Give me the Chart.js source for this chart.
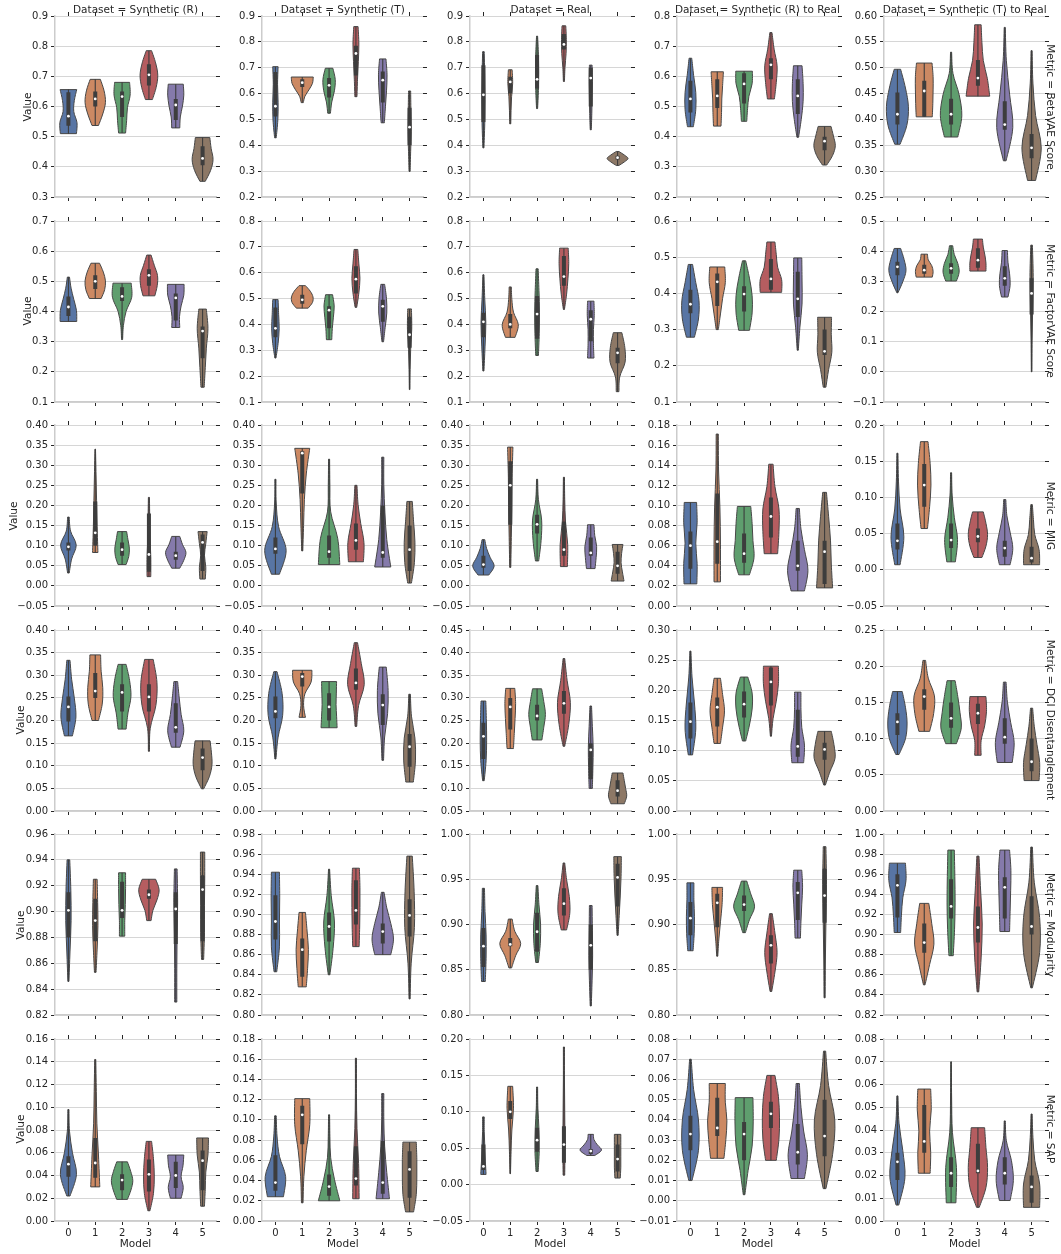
<!DOCTYPE html>
<html>
<head>
<meta charset="utf-8">
<script src="https://cdn.jsdelivr.net/npm/chart.js@4.4.1/dist/chart.umd.min.js"></script>
<style>
body{margin:0;background:#fff;}
#fig{position:relative;width:1061px;height:1254px;font-family:"DejaVu Sans",sans-serif;color:#262626;overflow:hidden;}
#fig canvas{position:absolute;}
.lbl{position:absolute;font-size:10.5px;white-space:nowrap;line-height:1;z-index:5;}
</style>
</head>
<body>
<div id="fig"></div>
<script>
const models=[0,1,2,3,4,5];
const datasetNames=['Synthetic (R)','Synthetic (T)','Real','Synthetic (R) to Real','Synthetic (T) to Real'];
const metricNames=['BetaVAE Score','FactorVAE Score','MIG','DCI Disentanglement','Modularity','SAP'];
const colors=['#5875a4','#cc8963','#5f9e6e','#b55d60','#857aab','#8d7866'];

// y axis [min, max, step] per metric row / dataset column
const yRanges=[
 [[0.3,0.9,0.1],[0.2,0.9,0.1],[0.2,0.9,0.1],[0.2,0.8,0.1],[0.25,0.60,0.05]],
 [[0.1,0.7,0.1],[0.1,0.8,0.1],[0.1,0.8,0.1],[0.1,0.6,0.1],[-0.1,0.5,0.1]],
 [[-0.05,0.40,0.05],[-0.05,0.40,0.05],[-0.05,0.40,0.05],[0,0.18,0.02],[-0.05,0.20,0.05]],
 [[0,0.40,0.05],[0,0.40,0.05],[0.05,0.45,0.05],[0,0.30,0.05],[0,0.25,0.05]],
 [[0.82,0.96,0.02],[0.80,0.98,0.02],[0.80,1.00,0.05],[0.80,1.00,0.05],[0.82,1.00,0.02]],
 [[0,0.16,0.02],[0,0.18,0.02],[-0.05,0.20,0.05],[-0.01,0.08,0.01],[0,0.08,0.01]]
];

// each violin: [min, max, q1, median, q3, [half widths from bottom to top]]
const betaVAE=[
 [[0.51,0.656,0.536,0.568,0.647,[0.30,0.32,0.20,0.22,0.31]],
  [0.537,0.69,0.60,0.625,0.65,[0.12,0.28,0.38,0.33,0.19]],
  [0.512,0.68,0.565,0.633,0.65,[0.13,0.17,0.20,0.30,0.28]],
  [0.623,0.785,0.67,0.705,0.74,[0.13,0.27,0.33,0.25,0.10]],
  [0.529,0.674,0.555,0.605,0.625,[0.15,0.17,0.25,0.30,0.28]],
  [0.352,0.497,0.405,0.428,0.468,[0.10,0.30,0.39,0.32,0.27]]],
 [[0.429,0.704,0.511,0.551,0.683,[0.03,0.09,0.10,0.08,0.10]],
  [0.565,0.664,0.625,0.642,0.655,[0.04,0.10,0.25,0.38,0.41]],
  [0.524,0.698,0.585,0.632,0.66,[0.05,0.10,0.20,0.23,0.14]],
  [0.588,0.859,0.67,0.755,0.785,[0.04,0.06,0.09,0.11,0.08]],
  [0.487,0.734,0.565,0.652,0.685,[0.06,0.10,0.14,0.16,0.12]],
  [0.299,0.61,0.40,0.47,0.545,[0.02,0.04,0.06,0.05,0.04]]],
 [[0.39,0.762,0.49,0.595,0.71,[0.02,0.05,0.06,0.05,0.03]],
  [0.483,0.692,0.60,0.645,0.665,[0.02,0.03,0.05,0.09,0.07]],
  [0.542,0.822,0.62,0.655,0.75,[0.02,0.05,0.06,0.05,0.02]],
  [0.647,0.862,0.77,0.79,0.83,[0.02,0.04,0.08,0.09,0.07]],
  [0.46,0.71,0.55,0.66,0.70,[0.02,0.04,0.05,0.06,0.05]],
  [0.322,0.376,0.345,0.352,0.36,[0.05,0.25,0.39,0.25,0.05]]],
 [[0.433,0.66,0.48,0.525,0.585,[0.11,0.20,0.20,0.12,0.05]],
  [0.435,0.615,0.495,0.535,0.59,[0.14,0.16,0.17,0.20,0.23]],
  [0.451,0.617,0.51,0.575,0.61,[0.10,0.13,0.18,0.30,0.31]],
  [0.525,0.745,0.59,0.638,0.66,[0.13,0.20,0.23,0.12,0.04]],
  [0.398,0.635,0.475,0.535,0.59,[0.03,0.13,0.20,0.20,0.16]],
  [0.306,0.434,0.355,0.385,0.40,[0.08,0.30,0.40,0.33,0.24]]],
 [[0.352,0.497,0.39,0.41,0.452,[0.10,0.35,0.41,0.30,0.12]],
  [0.405,0.509,0.405,0.455,0.475,[0.30,0.32,0.33,0.33,0.29]],
  [0.366,0.53,0.39,0.41,0.44,[0.25,0.40,0.30,0.07,0.02]],
  [0.445,0.583,0.465,0.48,0.515,[0.44,0.35,0.20,0.15,0.12]],
  [0.32,0.578,0.38,0.39,0.435,[0.05,0.30,0.18,0.06,0.02]],
  [0.282,0.533,0.325,0.345,0.372,[0.15,0.36,0.15,0.05,0.02]]]
];
const factorVAE=[
 [[0.367,0.514,0.385,0.415,0.45,[0.31,0.30,0.20,0.10,0.04]],
  [0.443,0.56,0.475,0.50,0.52,[0.22,0.35,0.38,0.30,0.16]],
  [0.307,0.494,0.435,0.45,0.48,[0.02,0.05,0.15,0.36,0.34]],
  [0.452,0.587,0.485,0.52,0.54,[0.22,0.31,0.32,0.20,0.08]],
  [0.347,0.49,0.37,0.445,0.46,[0.15,0.14,0.20,0.30,0.31]],
  [0.149,0.408,0.245,0.335,0.35,[0.06,0.10,0.14,0.20,0.14]]],
 [[0.27,0.496,0.35,0.385,0.465,[0.02,0.10,0.14,0.12,0.10]],
  [0.463,0.55,0.48,0.495,0.515,[0.22,0.38,0.40,0.30,0.12]],
  [0.341,0.515,0.385,0.455,0.47,[0.10,0.12,0.16,0.19,0.13]],
  [0.466,0.69,0.52,0.575,0.625,[0.03,0.11,0.15,0.11,0.07]],
  [0.333,0.555,0.41,0.47,0.495,[0.03,0.09,0.15,0.14,0.07]],
  [0.148,0.46,0.31,0.36,0.43,[0.01,0.02,0.04,0.08,0.07]]],
 [[0.22,0.592,0.35,0.41,0.445,[0.02,0.06,0.09,0.05,0.02]],
  [0.35,0.545,0.385,0.40,0.44,[0.18,0.30,0.12,0.06,0.04]],
  [0.28,0.615,0.345,0.44,0.51,[0.05,0.08,0.09,0.07,0.04]],
  [0.458,0.695,0.55,0.585,0.665,[0.02,0.10,0.15,0.18,0.16]],
  [0.27,0.49,0.335,0.42,0.455,[0.12,0.10,0.10,0.13,0.12]],
  [0.14,0.368,0.25,0.29,0.31,[0.05,0.08,0.28,0.27,0.16]]],
 [[0.279,0.48,0.345,0.37,0.41,[0.15,0.30,0.32,0.20,0.08]],
  [0.30,0.473,0.365,0.432,0.455,[0.04,0.12,0.20,0.30,0.28]],
  [0.298,0.49,0.35,0.398,0.42,[0.20,0.30,0.30,0.20,0.06]],
  [0.403,0.542,0.41,0.44,0.495,[0.40,0.40,0.25,0.20,0.15]],
  [0.243,0.498,0.335,0.385,0.46,[0.02,0.08,0.16,0.16,0.15]],
  [0.141,0.334,0.23,0.24,0.30,[0.05,0.15,0.27,0.25,0.26]]],
 [[0.262,0.409,0.32,0.348,0.365,[0.02,0.20,0.32,0.25,0.12]],
  [0.314,0.39,0.325,0.337,0.355,[0.30,0.33,0.28,0.15,0.12]],
  [0.301,0.418,0.325,0.343,0.36,[0.20,0.30,0.25,0.12,0.06]],
  [0.334,0.44,0.345,0.37,0.41,[0.30,0.30,0.26,0.20,0.17]],
  [0.248,0.402,0.285,0.31,0.35,[0.12,0.20,0.18,0.12,0.10]],
  [0.0,0.42,0.19,0.26,0.31,[0.01,0.02,0.04,0.06,0.03]]]
];
const mig=[
 [[0.032,0.171,0.088,0.097,0.108,[0.03,0.12,0.29,0.08,0.03]],
  [0.083,0.34,0.10,0.132,0.21,[0.10,0.07,0.05,0.03,0.01]],
  [0.053,0.135,0.075,0.09,0.108,[0.15,0.25,0.27,0.22,0.17]],
  [0.023,0.22,0.035,0.078,0.18,[0.07,0.07,0.04,0.03,0.02]],
  [0.044,0.123,0.065,0.075,0.085,[0.15,0.30,0.38,0.25,0.15]],
  [0.017,0.135,0.037,0.108,0.128,[0.10,0.12,0.07,0.12,0.17]]],
 [[0.029,0.265,0.08,0.092,0.12,[0.15,0.40,0.12,0.03,0.02]],
  [0.087,0.342,0.23,0.33,0.335,[0.02,0.05,0.08,0.15,0.28]],
  [0.053,0.315,0.07,0.085,0.125,[0.40,0.32,0.06,0.03,0.02]],
  [0.06,0.25,0.09,0.113,0.155,[0.28,0.30,0.18,0.08,0.04]],
  [0.047,0.32,0.07,0.083,0.20,[0.30,0.15,0.08,0.04,0.04]],
  [0.007,0.21,0.037,0.09,0.15,[0.07,0.18,0.20,0.15,0.10]]],
 [[0.027,0.115,0.045,0.053,0.075,[0.20,0.40,0.25,0.12,0.05]],
  [0.046,0.345,0.152,0.25,0.31,[0.02,0.04,0.06,0.07,0.10]],
  [0.062,0.265,0.13,0.153,0.177,[0.06,0.15,0.17,0.05,0.02]],
  [0.048,0.27,0.075,0.09,0.16,[0.13,0.14,0.06,0.03,0.02]],
  [0.043,0.152,0.075,0.082,0.12,[0.16,0.20,0.22,0.15,0.12]],
  [0.012,0.103,0.03,0.05,0.085,[0.24,0.18,0.13,0.15,0.20]]],
 [[0.022,0.103,0.037,0.06,0.074,[0.24,0.25,0.20,0.25,0.23]],
  [0.024,0.171,0.042,0.064,0.112,[0.12,0.12,0.10,0.05,0.04]],
  [0.031,0.099,0.043,0.052,0.072,[0.20,0.37,0.33,0.30,0.25]],
  [0.052,0.141,0.068,0.089,0.108,[0.25,0.30,0.30,0.15,0.08]],
  [0.015,0.097,0.035,0.04,0.065,[0.25,0.38,0.25,0.12,0.06]],
  [0.018,0.113,0.022,0.054,0.065,[0.30,0.25,0.22,0.15,0.07]]],
 [[0.007,0.161,0.028,0.04,0.064,[0.10,0.24,0.10,0.04,0.02]],
  [0.057,0.177,0.087,0.117,0.146,[0.12,0.20,0.25,0.22,0.14]],
  [0.011,0.134,0.03,0.041,0.064,[0.16,0.24,0.12,0.04,0.02]],
  [0.017,0.08,0.038,0.046,0.057,[0.15,0.30,0.36,0.30,0.20]],
  [0.007,0.097,0.018,0.03,0.04,[0.20,0.30,0.20,0.08,0.04]],
  [0.007,0.09,0.01,0.016,0.032,[0.30,0.28,0.12,0.07,0.03]]]
];
const dci=[
 [[0.166,0.333,0.198,0.23,0.253,[0.15,0.28,0.22,0.12,0.06]],
  [0.20,0.345,0.25,0.265,0.305,[0.12,0.26,0.28,0.22,0.20]],
  [0.181,0.324,0.22,0.262,0.28,[0.15,0.22,0.33,0.28,0.15]],
  [0.132,0.335,0.22,0.252,0.28,[0.02,0.05,0.26,0.30,0.16]],
  [0.141,0.286,0.173,0.185,0.238,[0.16,0.30,0.20,0.13,0.07]],
  [0.049,0.155,0.09,0.118,0.138,[0.04,0.25,0.35,0.33,0.28]]],
 [[0.115,0.308,0.205,0.22,0.253,[0.02,0.10,0.27,0.25,0.06]],
  [0.207,0.311,0.275,0.297,0.305,[0.12,0.05,0.10,0.33,0.36]],
  [0.184,0.286,0.20,0.23,0.26,[0.30,0.28,0.26,0.27,0.28]],
  [0.187,0.372,0.268,0.283,0.315,[0.03,0.10,0.31,0.20,0.06]],
  [0.112,0.318,0.19,0.234,0.258,[0.03,0.07,0.18,0.20,0.13]],
  [0.064,0.258,0.098,0.142,0.17,[0.14,0.22,0.20,0.07,0.03]]],
 [[0.117,0.293,0.165,0.215,0.245,[0.03,0.10,0.12,0.11,0.09]],
  [0.188,0.321,0.23,0.28,0.30,[0.12,0.15,0.18,0.20,0.17]],
  [0.207,0.32,0.25,0.26,0.285,[0.18,0.25,0.31,0.25,0.17]],
  [0.193,0.387,0.265,0.288,0.315,[0.03,0.18,0.24,0.12,0.03]],
  [0.10,0.282,0.12,0.185,0.20,[0.06,0.08,0.09,0.06,0.03]],
  [0.066,0.134,0.082,0.095,0.118,[0.25,0.34,0.30,0.25,0.20]]],
 [[0.093,0.265,0.12,0.148,0.18,[0.08,0.20,0.15,0.06,0.02]],
  [0.112,0.22,0.14,0.172,0.188,[0.12,0.20,0.27,0.20,0.12]],
  [0.116,0.222,0.155,0.177,0.198,[0.06,0.20,0.30,0.30,0.14]],
  [0.124,0.24,0.175,0.214,0.238,[0.02,0.08,0.20,0.28,0.28]],
  [0.08,0.197,0.09,0.107,0.168,[0.22,0.25,0.15,0.12,0.12]],
  [0.043,0.132,0.085,0.102,0.113,[0.03,0.20,0.39,0.35,0.25]]],
 [[0.078,0.165,0.105,0.123,0.135,[0.06,0.30,0.36,0.30,0.18]],
  [0.11,0.208,0.14,0.158,0.168,[0.20,0.35,0.38,0.15,0.05]],
  [0.093,0.18,0.115,0.128,0.15,[0.20,0.38,0.33,0.25,0.15]],
  [0.077,0.158,0.12,0.135,0.148,[0.12,0.12,0.25,0.32,0.30]],
  [0.067,0.178,0.093,0.102,0.128,[0.28,0.35,0.22,0.10,0.05]],
  [0.042,0.142,0.055,0.068,0.10,[0.28,0.30,0.20,0.10,0.04]]]
];
const modularity=[
 [[0.846,0.94,0.88,0.901,0.915,[0.02,0.06,0.10,0.09,0.05]],
  [0.853,0.925,0.877,0.893,0.91,[0.03,0.07,0.10,0.09,0.07]],
  [0.881,0.93,0.895,0.901,0.923,[0.10,0.10,0.12,0.13,0.13]],
  [0.893,0.925,0.91,0.913,0.917,[0.08,0.15,0.30,0.38,0.25]],
  [0.83,0.933,0.875,0.902,0.915,[0.04,0.04,0.05,0.07,0.05]],
  [0.863,0.946,0.877,0.917,0.928,[0.04,0.07,0.07,0.08,0.08]]],
 [[0.843,0.942,0.875,0.893,0.919,[0.05,0.15,0.15,0.16,0.15]],
  [0.828,0.902,0.838,0.865,0.876,[0.15,0.20,0.23,0.18,0.12]],
  [0.84,0.945,0.873,0.888,0.902,[0.03,0.15,0.20,0.08,0.02]],
  [0.868,0.946,0.89,0.904,0.934,[0.12,0.14,0.15,0.15,0.13]],
  [0.86,0.922,0.871,0.883,0.891,[0.30,0.40,0.30,0.15,0.05]],
  [0.816,0.958,0.878,0.899,0.915,[0.02,0.06,0.18,0.17,0.10]]],
 [[0.837,0.94,0.853,0.876,0.896,[0.07,0.10,0.10,0.06,0.04]],
  [0.852,0.906,0.876,0.878,0.885,[0.05,0.20,0.39,0.17,0.07]],
  [0.858,0.943,0.87,0.892,0.913,[0.05,0.12,0.13,0.07,0.03]],
  [0.894,0.968,0.91,0.923,0.94,[0.10,0.22,0.20,0.10,0.03]],
  [0.81,0.921,0.85,0.877,0.90,[0.02,0.05,0.07,0.06,0.05]],
  [0.888,0.975,0.92,0.952,0.967,[0.02,0.06,0.10,0.13,0.14]]],
 [[0.871,0.946,0.888,0.907,0.925,[0.10,0.14,0.15,0.13,0.13]],
  [0.865,0.941,0.897,0.924,0.934,[0.02,0.06,0.12,0.18,0.20]],
  [0.891,0.948,0.915,0.922,0.932,[0.05,0.20,0.39,0.25,0.10]],
  [0.826,0.912,0.857,0.877,0.888,[0.03,0.15,0.23,0.15,0.05]],
  [0.885,0.96,0.905,0.935,0.947,[0.10,0.12,0.15,0.18,0.15]],
  [0.819,0.986,0.902,0.932,0.962,[0.02,0.03,0.05,0.07,0.05]]],
 [[0.902,0.971,0.917,0.949,0.96,[0.12,0.15,0.20,0.32,0.30]],
  [0.85,0.931,0.882,0.892,0.911,[0.03,0.20,0.36,0.28,0.17]],
  [0.879,0.984,0.916,0.928,0.955,[0.08,0.13,0.15,0.14,0.12]],
  [0.843,0.978,0.892,0.907,0.928,[0.03,0.12,0.16,0.10,0.04]],
  [0.903,0.984,0.916,0.947,0.957,[0.18,0.20,0.22,0.23,0.18]],
  [0.847,0.987,0.90,0.908,0.938,[0.03,0.30,0.30,0.10,0.03]]]
];
const sap=[
 [[0.022,0.098,0.039,0.05,0.057,[0.06,0.30,0.15,0.04,0.02]],
  [0.03,0.142,0.038,0.051,0.073,[0.17,0.12,0.06,0.04,0.02]],
  [0.019,0.052,0.027,0.036,0.041,[0.20,0.33,0.40,0.32,0.20]],
  [0.009,0.07,0.026,0.041,0.054,[0.04,0.17,0.20,0.17,0.10]],
  [0.02,0.058,0.029,0.04,0.052,[0.20,0.28,0.20,0.27,0.30]],
  [0.013,0.073,0.027,0.053,0.062,[0.07,0.10,0.12,0.20,0.22]]],
 [[0.024,0.104,0.03,0.038,0.065,[0.30,0.38,0.15,0.06,0.03]],
  [0.018,0.121,0.076,0.105,0.114,[0.03,0.06,0.15,0.28,0.28]],
  [0.02,0.105,0.025,0.034,0.046,[0.40,0.20,0.06,0.03,0.02]],
  [0.022,0.161,0.035,0.042,0.074,[0.12,0.10,0.04,0.02,0.02]],
  [0.022,0.126,0.027,0.038,0.079,[0.25,0.15,0.07,0.04,0.04]],
  [0.009,0.078,0.023,0.051,0.069,[0.15,0.25,0.27,0.27,0.25]]],
 [[0.014,0.093,0.02,0.025,0.055,[0.10,0.07,0.05,0.03,0.03]],
  [0.015,0.135,0.09,0.10,0.115,[0.01,0.03,0.06,0.12,0.09]],
  [0.018,0.134,0.045,0.061,0.078,[0.04,0.08,0.07,0.03,0.02]],
  [0.013,0.189,0.03,0.055,0.08,[0.03,0.04,0.03,0.02,0.02]],
  [0.04,0.069,0.042,0.046,0.049,[0.15,0.40,0.25,0.12,0.10]],
  [0.009,0.069,0.018,0.035,0.055,[0.10,0.12,0.12,0.12,0.12]]],
 [[0.01,0.07,0.025,0.033,0.042,[0.06,0.30,0.30,0.12,0.03]],
  [0.021,0.058,0.032,0.036,0.051,[0.25,0.32,0.36,0.30,0.30]],
  [0.003,0.051,0.02,0.033,0.039,[0.03,0.15,0.30,0.34,0.33]],
  [0.02,0.062,0.036,0.043,0.049,[0.20,0.30,0.32,0.28,0.15]],
  [0.011,0.058,0.018,0.024,0.038,[0.25,0.36,0.22,0.12,0.06]],
  [0.006,0.074,0.022,0.032,0.05,[0.05,0.30,0.38,0.15,0.04]]],
 [[0.007,0.055,0.018,0.026,0.03,[0.05,0.28,0.20,0.06,0.02]],
  [0.021,0.058,0.03,0.035,0.051,[0.22,0.24,0.20,0.26,0.24]],
  [0.008,0.07,0.015,0.021,0.028,[0.18,0.20,0.05,0.02,0.01]],
  [0.006,0.041,0.021,0.022,0.034,[0.05,0.30,0.36,0.30,0.25]],
  [0.009,0.044,0.016,0.021,0.028,[0.20,0.32,0.25,0.06,0.02]],
  [0.006,0.047,0.008,0.015,0.02,[0.30,0.30,0.12,0.05,0.02]]]
];
const metricData=[betaVAE,factorVAE,mig,dci,modularity,sap];

const fig=document.getElementById('fig');
const TXT='#262626', EDGE='#474747', INNER='#3d3d3d';
const PW=161, PH=183, AXW=52;
const rowTop=r=>15+r*204.5, colLeft=c=>55+c*207.3;
// x position of the "Value" label, set by the widest tick label in each row
const valueX=[27,27,13,20,20,20];

function label(text,x,y,rot){
  const d=document.createElement('div'); d.className='lbl'; d.textContent=text;
  d.style.left=x+'px'; d.style.top=y+'px';
  d.style.transform='translate(-50%,-50%)'+(rot?` rotate(${rot}deg)`:'');
  fig.appendChild(d);
}
function curve(ctx,p){
  for(let k=0;k<p.length-1;k++){
    const p0=p[Math.max(k-1,0)],p1=p[k],p2=p[k+1],p3=p[Math.min(k+2,p.length-1)];
    ctx.bezierCurveTo(p1[0]+(p2[0]-p0[0])/6,p1[1]+(p2[1]-p0[1])/6,p2[0]-(p3[0]-p1[0])/6,p2[1]-(p3[1]-p1[1])/6,p2[0],p2[1]);
  }
}
function violinPlugin(vs){
  return {id:'violins',beforeDatasetsDraw(chart){
    const {ctx,scales:{x,y}}=chart;
    ctx.save();
    vs.forEach((v,i)=>{
      const lo=v[0],hi=v[1],ws=v[5],n=ws.length;
      const lev=ws.map((w,k)=>lo+(hi-lo)*k/(n-1));
      const right=ws.map((w,k)=>[x.getPixelForValue(models[i]+w),y.getPixelForValue(lev[k])]);
      const left=ws.map((w,k)=>[x.getPixelForValue(models[i]-w),y.getPixelForValue(lev[k])]).reverse();
      ctx.beginPath();
      ctx.moveTo(left[n-1][0],left[n-1][1]);
      ctx.lineTo(right[0][0],right[0][1]);
      curve(ctx,right);
      ctx.lineTo(left[0][0],left[0][1]);
      curve(ctx,left);
      ctx.closePath();
      ctx.fillStyle=colors[i]; ctx.fill();
      ctx.strokeStyle=EDGE; ctx.lineWidth=1; ctx.stroke();
    });
    ctx.restore();
  }};
}

function panel(r,c){
  const vs=metricData[r][c];
  const [lo,hi,step]=yRanges[r][c];
  const dec=step<0.099?2:1;
  const last=r===metricData.length-1;
  const bottomH=last?22:8;
  const left=Math.round(colLeft(c))-AXW, top=Math.round(rowTop(r))-8;
  const W=AXW+PW+8, H=8+PH+bottomH;
  const cv=document.createElement('canvas');
  cv.width=W; cv.height=H;
  cv.style.left=left+'px'; cv.style.top=top+'px'; cv.style.width=W+'px'; cv.style.height=H+'px';
  fig.appendChild(cv);
  const nT=Math.round((hi-lo)/step);
  const yTicks=[]; for(let i=0;i<=nT;i++) yTicks.push(+(lo+i*step).toFixed(4));
  const fmt=v=>(v<-1e-9?'\u2212':'')+Math.abs(v).toFixed(dec);
  const catTicks=s=>{s.ticks=models.map(v=>({value:v}));};
  const valTicks=s=>{s.ticks=yTicks.map(v=>({value:v}));};
  const tickGrid={drawOnChartArea:false,drawTicks:true,tickLength:4,tickColor:TXT,lineWidth:1};
  const font={family:'DejaVu Sans',size:10};

  const whisk=[],box=[];
  vs.forEach((v,i)=>{
    whisk.push({x:models[i],y:v[0]},{x:models[i],y:v[1]},{x:models[i],y:null});
    box.push({x:models[i],y:v[2]},{x:models[i],y:v[4]},{x:models[i],y:null});
  });

  new Chart(cv,{
    type:'scatter',
    data:{datasets:[
      {data:vs.map((v,i)=>({x:models[i],y:v[3]})),pointRadius:1.4,pointBackgroundColor:'#ffffff',pointBorderWidth:0,xAxisID:'x',yAxisID:'y',order:0},
      {type:'line',data:box,borderColor:INNER,borderWidth:4,pointRadius:0,spanGaps:false,xAxisID:'x',yAxisID:'y',order:1},
      {type:'line',data:whisk,borderColor:INNER,borderWidth:1.1,pointRadius:0,spanGaps:false,xAxisID:'x',yAxisID:'y',order:2}
    ]},
    options:{
      responsive:false,animation:false,events:[],devicePixelRatio:1,
      layout:{padding:0},
      plugins:{legend:{display:false},tooltip:{enabled:false}},
      scales:{
        x:{type:'linear',position:'bottom',min:-0.5,max:5.5,afterBuildTicks:catTicks,afterFit:s=>{s.height=bottomH;},
           grid:tickGrid,border:{color:'#cccccc',width:1.5},
           ticks:{display:last,padding:2,color:TXT,font,autoSkip:false,maxRotation:0,callback:v=>String(v)}},
        xTop:{type:'linear',position:'top',min:-0.5,max:5.5,afterBuildTicks:catTicks,afterFit:s=>{s.height=8;},
           grid:tickGrid,border:{display:false},ticks:{display:false}},
        y:{type:'linear',position:'left',min:lo,max:hi,afterBuildTicks:valTicks,afterFit:s=>{s.width=AXW;},
           grid:{color:'#d6d6d6',lineWidth:1,drawTicks:true,tickLength:4,tickColor:TXT},border:{color:'#cccccc',width:1.5},
           ticks:{padding:3,color:TXT,font,autoSkip:false,callback:v=>fmt(v)}},
        yRight:{type:'linear',position:'right',min:lo,max:hi,afterBuildTicks:valTicks,afterFit:s=>{s.width=8;},
           grid:tickGrid,border:{display:false},ticks:{display:false}}
      }
    },
    plugins:[violinPlugin(vs)]
  });
}

for(let r=0;r<metricData.length;r++) for(let c=0;c<datasetNames.length;c++) panel(r,c);

datasetNames.forEach((d,c)=>label('Dataset = '+d,colLeft(c)+PW/2,8.5,0));
metricNames.forEach((m,r)=>{
  label('Metric = '+m,1051,rowTop(r)+PH/2,90);
  label('Value',valueX[r],rowTop(r)+PH/2,-90);
});
datasetNames.forEach((d,c)=>label('Model',colLeft(c)+PW/2,1243,0));
</script>
</body>
</html>
